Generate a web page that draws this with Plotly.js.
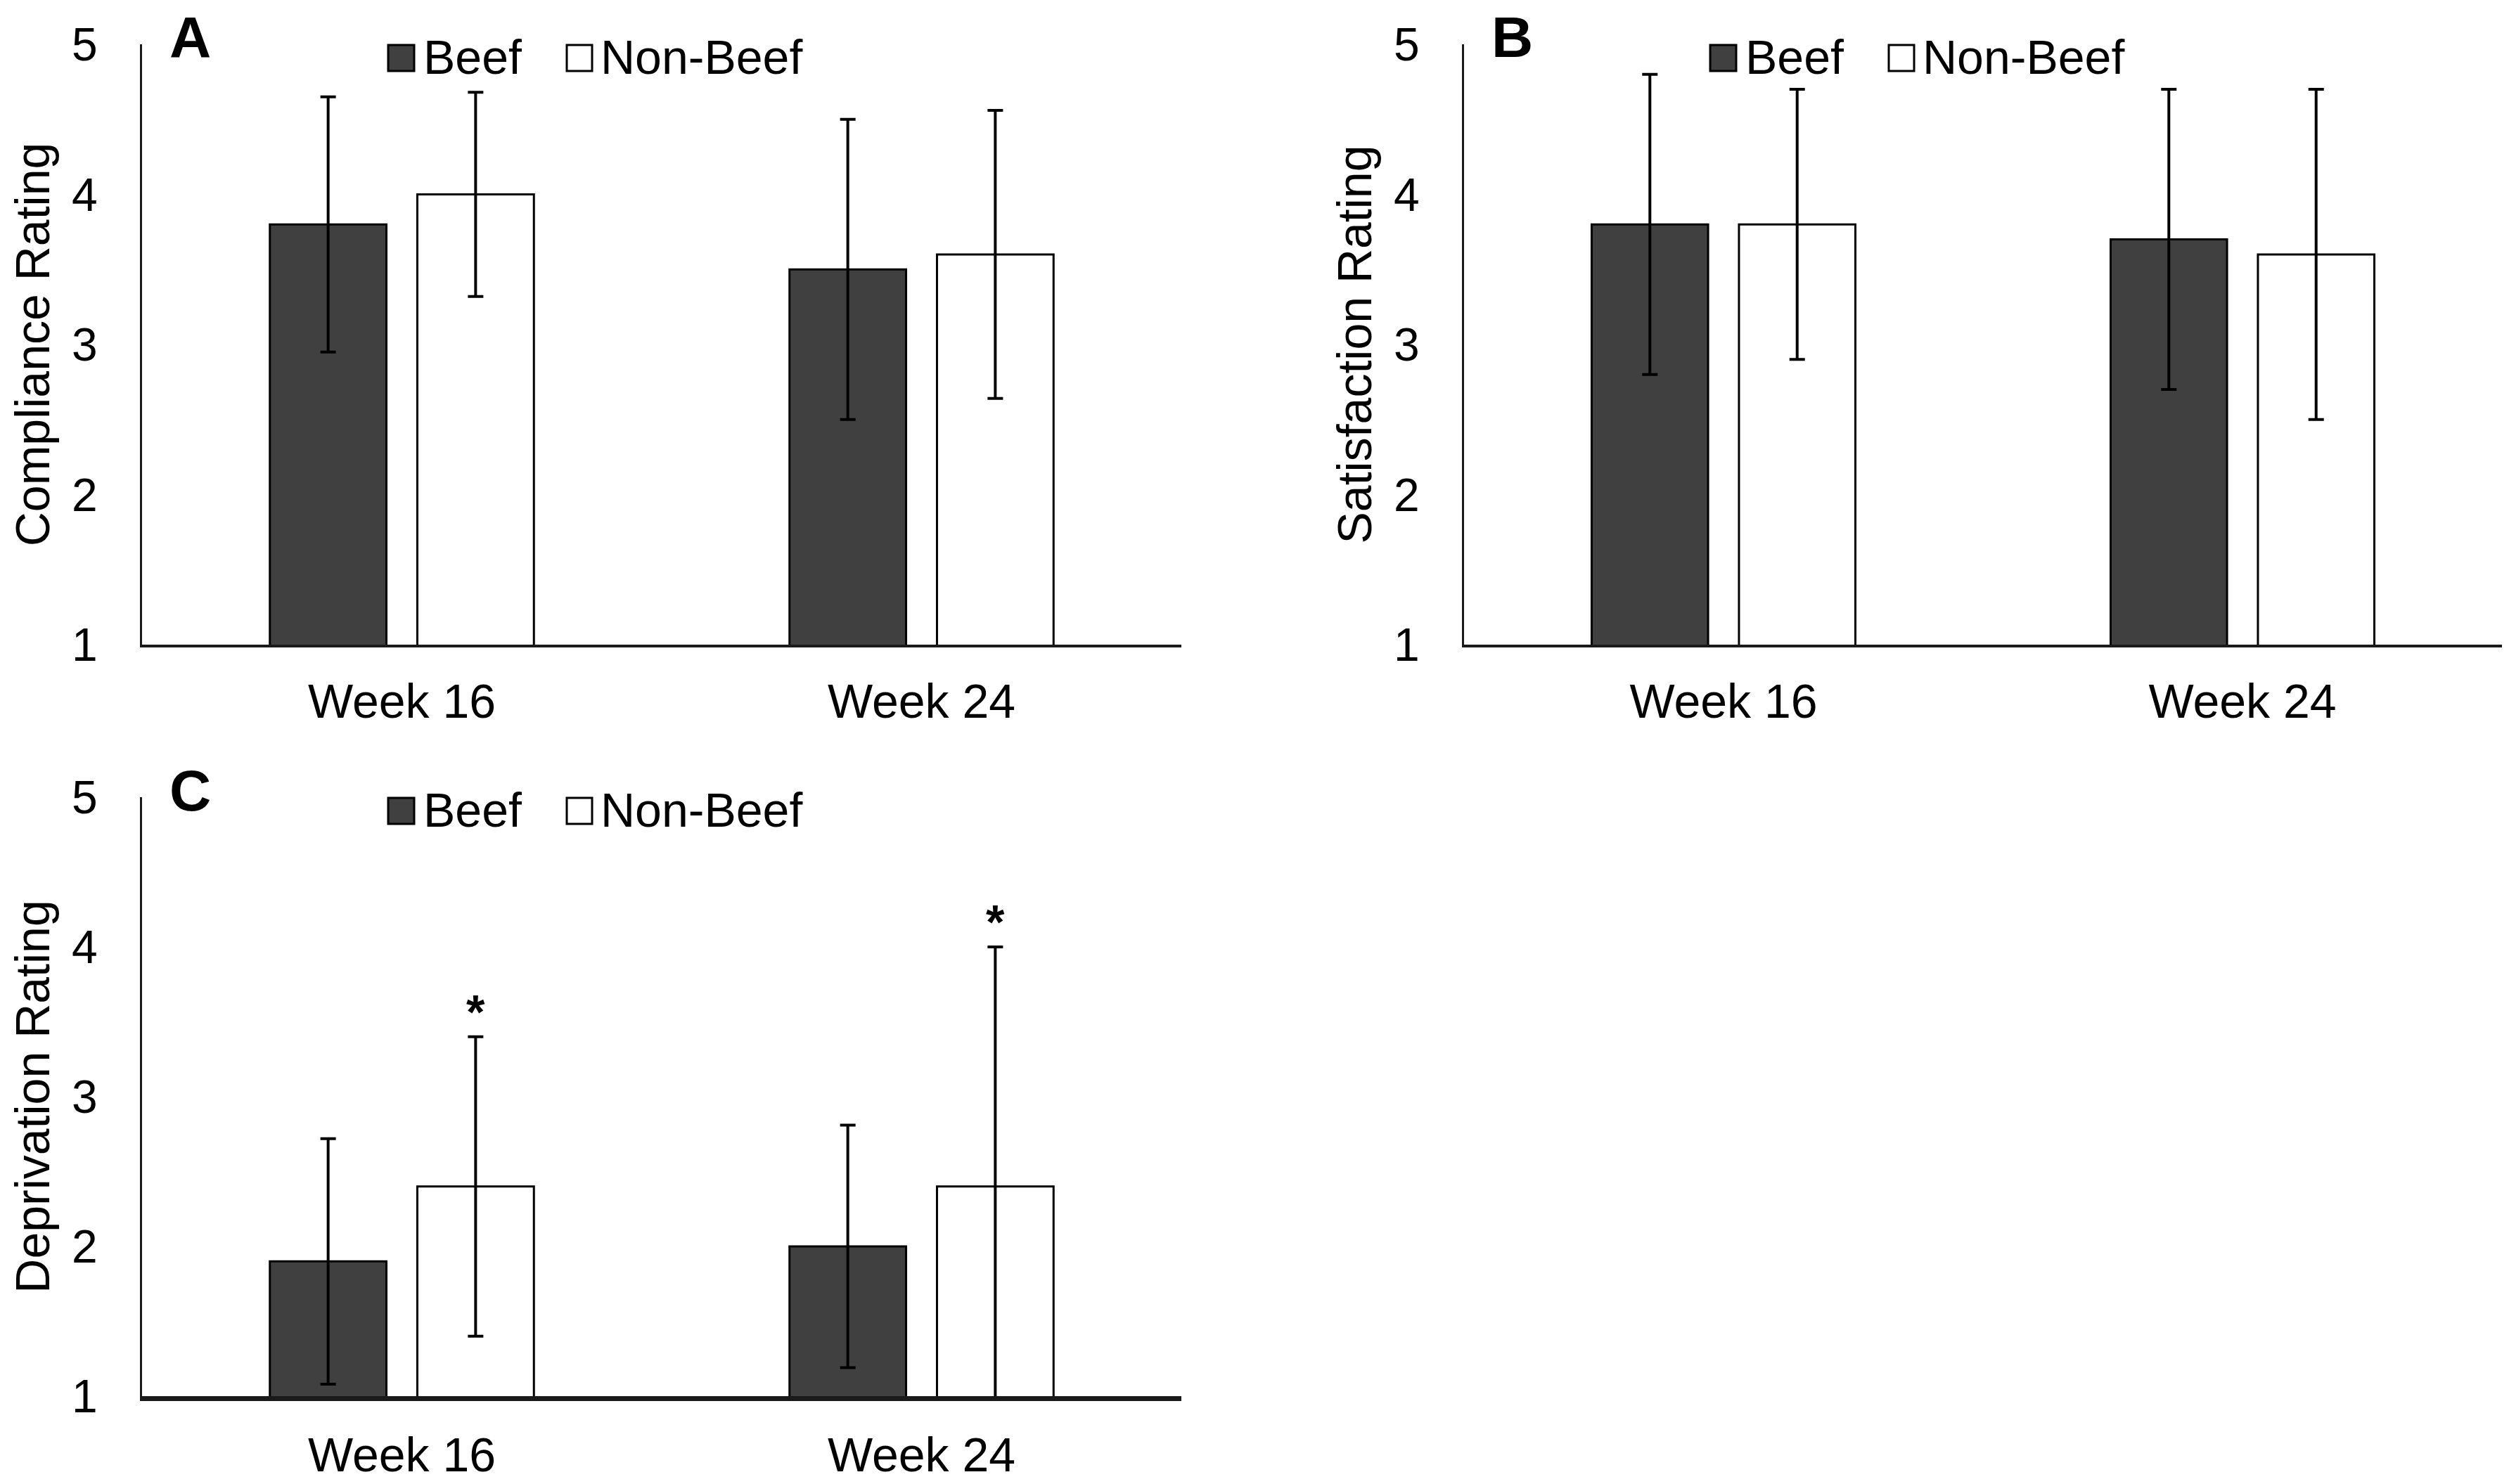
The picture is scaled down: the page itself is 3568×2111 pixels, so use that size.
<!DOCTYPE html>
<html>
<head>
<meta charset="utf-8">
<script src="https://cdn.plot.ly/plotly-3.0.1.min.js"></script>
<style>html,body{margin:0;padding:0;background:#fff;}#chart{width:3568px;height:2111px;}</style>
</head>
<body>
<div id="chart"></div>
<script>
// ---- data ----
const categories = ['Week 16', 'Week 24'];
const seriesNames = ['Beef', 'Non-Beef'];
const yTickVals = [1, 2, 3, 4, 5];

const complianceBeef = [3.8, 3.5];
const complianceBeefErr = [0.85, 1.0];
const complianceNonBeef = [4.0, 3.6];
const complianceNonBeefErr = [0.68, 0.96];

const satisfactionBeef = [3.8, 3.7];
const satisfactionBeefErr = [1.0, 1.0];
const satisfactionNonBeef = [3.8, 3.6];
const satisfactionNonBeefErr = [0.9, 1.1];

const deprivationBeef = [1.9, 2.0];
const deprivationBeefErr = [0.82, 0.81];
const deprivationNonBeef = [2.4, 2.4];
const deprivationNonBeefErr = [1.0, 1.6];
const deprivationNonBeefSig = ['*', '*'];

const panelLetters = ['A', 'B', 'C'];
const yTitles = ['Compliance Rating', 'Satisfaction Rating', 'Deprivation Rating'];

// ---- style ----
const W = 3568, H = 2111;
const FONT = 'Liberation Sans, Arial, Helvetica, sans-serif';
const beefColor = '#404040';
const nonBeefColor = '#ffffff';
const px = x => x / W;
const py = y => 1 - y / H;

// panel pixel boxes: [x0, x1, yTop, yBottom]
const boxes = [
  [202, 1680, 63, 917],
  [2082, 3558, 63, 917],
  [202, 1680, 1134, 1986]
];

function barTrace(name, vals, errs, color, ax, ay) {
  return {
    type: 'bar', name: name, x: categories, y: vals,
    xaxis: ax, yaxis: ay, showlegend: false,
    marker: {color: color, line: {color: '#000', width: 3}},
    error_y: {type: 'data', array: errs, visible: true, color: '#000', thickness: 4, width: 11},
    hoverinfo: 'skip'
  };
}

const data = [
  barTrace(seriesNames[0], complianceBeef, complianceBeefErr, beefColor, 'x', 'y'),
  barTrace(seriesNames[1], complianceNonBeef, complianceNonBeefErr, nonBeefColor, 'x', 'y'),
  barTrace(seriesNames[0], satisfactionBeef, satisfactionBeefErr, beefColor, 'x2', 'y2'),
  barTrace(seriesNames[1], satisfactionNonBeef, satisfactionNonBeefErr, nonBeefColor, 'x2', 'y2'),
  barTrace(seriesNames[0], deprivationBeef, deprivationBeefErr, beefColor, 'x3', 'y3'),
  barTrace(seriesNames[1], deprivationNonBeef, deprivationNonBeefErr, nonBeefColor, 'x3', 'y3')
];

function xAxis(i, lw) {
  const b = boxes[i];
  return {
    type: 'category', domain: [px(b[0]), px(b[1])], range: [-0.5, 1.5],
    anchor: i === 0 ? 'y' : 'y' + (i + 1),
    showline: true, linecolor: '#1a1a1a', linewidth: lw,
    ticks: 'outside', ticklen: 18, tickcolor: 'rgba(0,0,0,0)',
    tickfont: {family: FONT, size: 68, color: '#000'},
    showgrid: false, zeroline: false, automargin: false, fixedrange: true
  };
}
function yAxis(i) {
  const b = boxes[i];
  return {
    domain: [py(b[3]), py(b[2])], range: [1, 5],
    anchor: i === 0 ? 'x' : 'x' + (i + 1),
    tickvals: yTickVals, ticktext: yTickVals.map(String),
    showline: true, linecolor: '#1a1a1a', linewidth: 3,
    ticks: 'outside', ticklen: 47, tickcolor: 'rgba(0,0,0,0)',
    tickfont: {family: FONT, size: 66, color: '#000'},
    title: {text: yTitles[i], font: {family: FONT, size: 68, color: '#000'}, standoff: 10},
    showgrid: false, zeroline: false, automargin: false, fixedrange: true
  };
}

const shapes = [];
const annotations = [];
const legendOffsets = {sq1: 350, tx1: 398, sq2: 604, tx2: 650};
boxes.forEach((b, i) => {
  // panel letter
  annotations.push({
    xref: 'paper', yref: 'paper', x: px(b[0] + 68), y: py(b[2] - 10),
    text: '<b>' + panelLetters[i] + '</b>', showarrow: false,
    xanchor: 'center', yanchor: 'middle',
    font: {family: FONT, size: 82, color: '#000'}
  });
  // legend
  const top = b[2] + 1, bot = b[2] + 38, mid = b[2] + 18;
  shapes.push({type: 'rect', xref: 'paper', yref: 'paper',
    x0: px(b[0] + legendOffsets.sq1), x1: px(b[0] + legendOffsets.sq1 + 37),
    y0: py(bot), y1: py(top), fillcolor: beefColor, line: {color: '#000', width: 3}});
  shapes.push({type: 'rect', xref: 'paper', yref: 'paper',
    x0: px(b[0] + legendOffsets.sq2), x1: px(b[0] + legendOffsets.sq2 + 36),
    y0: py(bot), y1: py(top), fillcolor: nonBeefColor, line: {color: '#000', width: 3}});
  annotations.push({xref: 'paper', yref: 'paper', x: px(b[0] + legendOffsets.tx1), y: py(mid),
    text: seriesNames[0], showarrow: false, xanchor: 'left', yanchor: 'middle',
    font: {family: FONT, size: 68, color: '#000'}});
  annotations.push({xref: 'paper', yref: 'paper', x: px(b[0] + legendOffsets.tx2), y: py(mid),
    text: seriesNames[1], showarrow: false, xanchor: 'left', yanchor: 'middle',
    font: {family: FONT, size: 68, color: '#000'}});
});

// significance asterisks above Non-Beef error bars in panel C
deprivationNonBeefSig.forEach((s, k) => {
  if (!s) return;
  annotations.push({
    xref: 'x3', yref: 'y3', x: categories[k], y: deprivationNonBeef[k] + deprivationNonBeefErr[k],
    xshift: 105, yshift: -4, text: '<b>' + s + '</b>', showarrow: false,
    xanchor: 'center', yanchor: 'bottom',
    font: {family: FONT, size: 68, color: '#000'}
  });
});

const layout = {
  width: W, height: H, autosize: false,
  margin: {l: 0, r: 0, t: 0, b: 0, pad: 0},
  paper_bgcolor: '#fff', plot_bgcolor: '#fff',
  barmode: 'group', bargap: 0.4324, bargroupgap: 0.2095,
  showlegend: false,
  font: {family: FONT, color: '#000'},
  xaxis: xAxis(0, 4), yaxis: yAxis(0),
  xaxis2: xAxis(1, 4), yaxis2: yAxis(1),
  xaxis3: xAxis(2, 7), yaxis3: yAxis(2),
  shapes: shapes, annotations: annotations
};

Plotly.newPlot('chart', data, layout, {staticPlot: true, displayModeBar: false});
</script>
</body>
</html>
